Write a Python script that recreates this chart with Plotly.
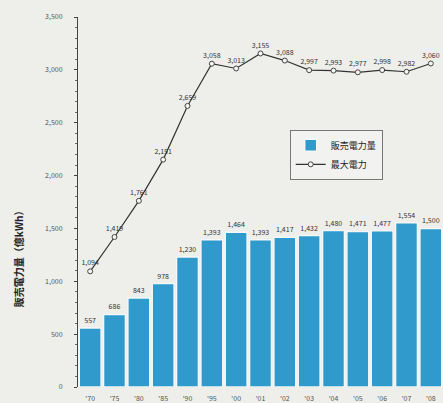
import plotly.graph_objects as go

years = ["'70", "'75", "'80", "'85", "'90", "'95", "'00", "'01", "'02", "'03", "'04", "'05", "'06", "'07", "'08"]
sales = [557, 686, 843, 978, 1230, 1393, 1464, 1393, 1417, 1432, 1480, 1471, 1477, 1554, 1500]
peak = [1094, 1419, 1761, 2151, 2659, 3058, 3013, 3155, 3088, 2997, 2993, 2977, 2998, 2982, 3060]
y_ticks = [0, 500, 1000, 1500, 2000, 2500, 3000, 3500]
y_tick_text = ["0", "500", "1,000", "1,500", "2,000", "2,500", "3,000", "3,500"]

BG = "#eeeeeb"
fig = go.Figure()
fig.add_trace(go.Bar(
    x=years, y=sales, name="販売電力量",
    marker=dict(color="#2f9acb", line=dict(color="#f4f8f8", width=1.5)),
    text=[f"{v:,}" for v in sales], textposition="outside",
    textfont=dict(size=7, color="#333333"), cliponaxis=False,
))
fig.add_trace(go.Scatter(
    x=years, y=peak, name="最大電力", mode="lines+markers+text",
    line=dict(color="#333333", width=1.2),
    marker=dict(symbol="circle", size=5, color="#f4f4f2", line=dict(width=1, color="#444444")),
    text=[f"{v:,}" for v in peak], textposition="top center",
    textfont=dict(size=7, color="#333333"), cliponaxis=False,
))

fig.add_annotation(text="<b>販売電力量（億kWh）</b>", textangle=-90, showarrow=False,
                   xref="paper", yref="paper", x=-0.164, y=0.354,
                   xanchor="center", yanchor="middle",
                   font=dict(size=10, color="#222222"))

fig.update_layout(
    width=443, height=403,
    margin=dict(l=78, r=0, t=17, b=16),
    paper_bgcolor=BG, plot_bgcolor=BG,
    font=dict(family="Noto Sans CJK JP, sans-serif", color="#333333"),
    bargap=0.1, showlegend=True,
    legend=dict(x=0.58, y=0.695, xanchor="left", yanchor="top",
                bgcolor="#f2f2f0", bordercolor="#777777", borderwidth=1,
                font=dict(size=9, color="#222222"), tracegroupgap=0),
)
fig.update_xaxes(range=[-0.5, 14.5], showline=False, ticks="",
                 tickfont=dict(size=7, color="#555555"), ticklabelstandoff=6)
fig.update_yaxes(range=[0, 3500], tickvals=y_ticks, ticktext=y_tick_text,
                 showgrid=False, zeroline=False, showline=True, linecolor="#444444",
                 linewidth=1, ticks="outside", ticklen=3, tickcolor="#444444",
                 tickfont=dict(size=7, color="#555555"), ticklabelstandoff=10,
                 minor=dict(dtick=100, ticks="outside", ticklen=2, tickcolor="#666666"))
fig.write_html("out.html", config={"displayModeBar": False},
               post_script=f"document.body.style.margin='0';document.body.style.background='{BG}';document.body.style.overflow='hidden';")
